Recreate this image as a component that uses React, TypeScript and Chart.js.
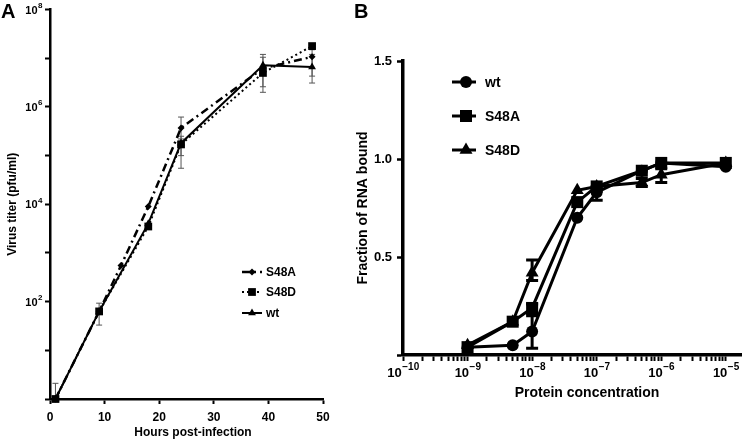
import React, { useEffect, useRef } from 'react';
import { Chart, registerables } from 'chart.js';

Chart.register(...registerables);

const FONT_FAMILY = "'Liberation Sans', Arial, Helvetica, sans-serif";

// ---------------- Panel A: virus growth ----------------
const hoursS48A = [1, 9, 13, 18, 24, 39, 48];
const titerS48A = [1, 63, 550, 9000, 370000, 6200000, 10700000];
const titerS48ALow = [null, null, null, null, 200000, null, 4300000];
const titerS48AHigh = [null, null, null, null, 620000, null, 15000000];

const hoursS48D = [1, 9, 18, 24, 39, 48];
const titerS48D = [1, 63, 3500, 170000, 5000000, 17800000];
const titerS48DLow = [null, null, null, 100000, 2600000, null];
const titerS48DHigh = [2.1, null, null, 220000, 10500000, null];

const hoursWt = [1, 9, 18, 24, 39, 48];
const titerWt = [1, 63, 4000, 180000, 7200000, 6600000];
const titerWtLow = [null, 33, null, 55000, 2000000, 3100000];
const titerWtHigh = [null, 93, null, 250000, 12000000, 12000000];

const hourTicks = [0, 10, 20, 30, 40, 50];
const titerExponents = [0, 1, 2, 3, 4, 5, 6, 7, 8];
const titerLabelledExponents = [2, 4, 6, 8];

// ---------------- Panel B: RNA binding ----------------
const concentration = [1e-9, 5e-9, 1e-8, 5e-8, 1e-7, 5e-7, 1e-6, 1e-5];
const fracWt = [0.04, 0.05, 0.12, 0.70, 0.83, 0.94, 0.98, 0.96];
const fracWtLow = [null, null, 0.035, null, 0.79, null, null, null];
const fracWtHigh = [null, null, 0.2, null, 0.86, null, null, null];
const fracS48A = [0.04, 0.17, 0.24, 0.78, 0.86, 0.94, 0.98, 0.98];
const fracS48ALow = [null, null, 0.21, null, null, null, null, null];
const fracS48AHigh = [null, null, 0.26, null, null, null, null, null];
const fracS48D = [0.05, 0.17, 0.42, 0.84, 0.86, 0.88, 0.92, 0.98];
const fracS48DLow = [null, null, 0.38, null, null, 0.86, 0.88, null];
const fracS48DHigh = [null, null, 0.485, null, null, 0.9, 0.95, null];

const concExponents = [-10, -9, -8, -7, -6, -5];
const concMantissas = [1, 2, 3, 4, 5, 6, 7, 8, 9];
const fractionTicks = [0, 0.5, 1.0, 1.5];

function drawMarker(ctx: CanvasRenderingContext2D, style: string, x: number, y: number, r: number) {
  ctx.beginPath();
  if (style === 'circle') {
    ctx.arc(x, y, r, 0, Math.PI * 2);
  } else if (style === 'rect') {
    const s = r * Math.SQRT1_2;
    ctx.rect(x - s, y - s, 2 * s, 2 * s);
  } else if (style === 'rectRot') {
    ctx.moveTo(x - r, y);
    ctx.lineTo(x, y - r);
    ctx.lineTo(x + r, y);
    ctx.lineTo(x, y + r);
    ctx.closePath();
  } else if (style === 'triangle') {
    ctx.moveTo(x, y - r);
    ctx.lineTo(x + 0.866 * r, y + 0.5 * r);
    ctx.lineTo(x - 0.866 * r, y + 0.5 * r);
    ctx.closePath();
  }
  ctx.fill();
}

// error bars drawn through the chart's own y scale
const errorBarPlugin = {
  id: 'errorBars',
  beforeDatasetsDraw(chart: any, _args: any, opts: any) {
    const ctx = chart.ctx as CanvasRenderingContext2D;
    const yScale = chart.scales.y;
    chart.data.datasets.forEach((ds: any, i: number) => {
      const meta = chart.getDatasetMeta(i);
      ctx.save();
      ctx.strokeStyle = opts.color;
      ctx.lineWidth = opts.width;
      ctx.setLineDash([]);
      meta.data.forEach((pt: any, j: number) => {
        const x = pt.x;
        const yc = pt.y;
        const seg = (v: number) => {
          const yy = yScale.getPixelForValue(v);
          ctx.beginPath();
          ctx.moveTo(x, yc);
          ctx.lineTo(x, yy);
          ctx.moveTo(x - opts.cap, yy);
          ctx.lineTo(x + opts.cap, yy);
          ctx.stroke();
        };
        const lo = ds.errLow ? ds.errLow[j] : null;
        const hi = ds.errHigh ? ds.errHigh[j] : null;
        if (lo != null) seg(lo);
        if (hi != null) seg(hi);
      });
      ctx.restore();
    });
  },
};

// power-of-ten tick labels with a raised exponent
const powerLabelPlugin = {
  id: 'powerLabels',
  afterDraw(chart: any, _args: any, opts: any) {
    const ctx = chart.ctx as CanvasRenderingContext2D;
    const scale = chart.scales[opts.axis];
    ctx.save();
    ctx.fillStyle = '#000';
    ctx.textBaseline = 'middle';
    ctx.textAlign = 'left';
    opts.exponents.forEach((e: number) => {
      const p = scale.getPixelForValue(Math.pow(10, e));
      const base = '10';
      const sup = String(e).replace('-', '\u2212');
      ctx.font = `bold ${opts.baseSize}px ${FONT_FAMILY}`;
      const w1 = ctx.measureText(base).width;
      ctx.font = `bold ${opts.supSize}px ${FONT_FAMILY}`;
      const w2 = ctx.measureText(sup).width;
      let x0: number;
      let yc: number;
      if (opts.axis === 'y') {
        x0 = scale.right - opts.offset - w1 - w2;
        yc = p;
      } else {
        x0 = p - (w1 + w2) / 2;
        yc = scale.top + opts.offset;
      }
      ctx.font = `bold ${opts.baseSize}px ${FONT_FAMILY}`;
      ctx.fillText(base, x0, yc + 1);
      ctx.font = `bold ${opts.supSize}px ${FONT_FAMILY}`;
      ctx.fillText(sup, x0 + w1 + 0.5, yc - opts.raise);
    });
    ctx.restore();
  },
};

// horizontal axis title placed under the axis
const xTitlePlugin = {
  id: 'xTitle',
  afterDraw(chart: any, _args: any, opts: any) {
    const ctx = chart.ctx as CanvasRenderingContext2D;
    ctx.save();
    ctx.fillStyle = '#000';
    ctx.font = opts.font;
    ctx.textAlign = 'center';
    ctx.textBaseline = 'middle';
    ctx.fillText(opts.text, opts.x, opts.y);
    ctx.restore();
  },
};

const legendPlugin = {
  id: 'seriesLegend',
  afterDraw(chart: any, _args: any, opts: any) {
    const ctx = chart.ctx as CanvasRenderingContext2D;
    chart.data.datasets.forEach((ds: any, i: number) => {
      const y = opts.ys[i];
      ctx.save();
      ctx.strokeStyle = '#000';
      ctx.fillStyle = '#000';
      ctx.lineWidth = ds.borderWidth;
      ctx.setLineDash(ds.borderDash || []);
      ctx.beginPath();
      ctx.moveTo(opts.lineStart, y);
      ctx.lineTo(opts.lineEnd, y);
      ctx.stroke();
      ctx.setLineDash([]);
      drawMarker(ctx, ds.pointStyle, opts.markerX, y, ds.pointRadius);
      ctx.font = opts.font;
      ctx.textBaseline = 'middle';
      ctx.textAlign = 'left';
      ctx.fillText(ds.label, opts.textX, y + 1);
      ctx.restore();
    });
  },
};

const pts = (xs: number[], ys: number[]) => xs.map((x, i) => ({ x, y: ys[i] }));

function makeChartA(canvas: HTMLCanvasElement) {
  const common = {
    borderColor: '#000',
    pointBackgroundColor: '#000',
    pointBorderColor: '#000',
    pointBorderWidth: 0,
    tension: 0,
    clip: false as any,
  };
  return new Chart(canvas, {
    type: 'line',
    data: {
      datasets: [
        {
          ...common,
          label: 'S48A',
          data: pts(hoursS48A, titerS48A),
          errLow: titerS48ALow,
          errHigh: titerS48AHigh,
          borderWidth: 2.5,
          borderDash: [8, 4, 2, 4],
          pointStyle: 'rectRot',
          pointRadius: 3.5,
        } as any,
        {
          ...common,
          label: 'S48D',
          data: pts(hoursS48D, titerS48D),
          errLow: titerS48DLow,
          errHigh: titerS48DHigh,
          borderWidth: 2,
          borderDash: [2, 3],
          pointStyle: 'rect',
          pointRadius: 5.5,
        } as any,
        {
          ...common,
          label: 'wt',
          data: pts(hoursWt, titerWt),
          errLow: titerWtLow,
          errHigh: titerWtHigh,
          borderWidth: 2,
          pointStyle: 'triangle',
          pointRadius: 4.5,
        } as any,
      ],
    },
    options: {
      responsive: false,
      animation: false,
      devicePixelRatio: 1,
      layout: { padding: { top: 8, right: 22, left: 0, bottom: 0 } },
      plugins: {
        legend: { display: false },
        tooltip: { enabled: false },
        errorBars: { color: '#555', width: 1, cap: 3 },
        powerLabels: { axis: 'y', exponents: titerLabelledExponents, baseSize: 11, supSize: 8, offset: 8, raise: 4 },
        xTitle: { text: 'Hours post-infection', x: 193, y: 433, font: `bold 12px ${FONT_FAMILY}` },
        seriesLegend: {
          ys: [272, 292, 313],
          lineStart: 242,
          lineEnd: 262,
          markerX: 252,
          textX: 266,
          font: `bold 12px ${FONT_FAMILY}`,
        },
      } as any,
      scales: {
        x: {
          type: 'linear',
          min: 0,
          max: 50,
          afterFit: (s: any) => { s.height = 42; },
          afterBuildTicks: (s: any) => { s.ticks = hourTicks.map((v) => ({ value: v })); },
          ticks: {
            autoSkip: false,
            maxRotation: 0,
            color: '#000',
            padding: 6,
            font: { family: FONT_FAMILY, size: 12, weight: 'bold' },
            callback: (v: any) => String(v),
          },
          grid: { display: true, drawOnChartArea: false, drawTicks: true, tickLength: 5, tickColor: '#000', tickWidth: 2 },
          border: { display: true, color: '#000', width: 2.5 },
          title: { display: false },
        },
        y: {
          type: 'logarithmic',
          min: 1,
          max: 1e8,
          afterFit: (s: any) => { s.width = 50; },
          afterBuildTicks: (s: any) => { s.ticks = titerExponents.map((e) => ({ value: Math.pow(10, e) })); },
          ticks: {
            autoSkip: false,
            color: '#000',
            padding: 3,
            font: { family: FONT_FAMILY, size: 11, weight: 'bold' },
            callback: () => '',
          },
          grid: { display: true, drawOnChartArea: false, drawTicks: true, tickLength: 5, tickColor: '#000', tickWidth: 2 },
          border: { display: true, color: '#000', width: 2.5 },
          title: {
            display: true,
            text: 'Virus titer (pfu/ml)',
            color: '#000',
            font: { family: FONT_FAMILY, size: 12, weight: 'bold' },
            padding: { top: 5, bottom: 0 },
          },
        },
      },
    } as any,
    plugins: [errorBarPlugin, powerLabelPlugin, xTitlePlugin, legendPlugin],
  });
}

function makeChartB(canvas: HTMLCanvasElement) {
  const common = {
    borderColor: '#000',
    pointBackgroundColor: '#000',
    pointBorderColor: '#000',
    pointBorderWidth: 0,
    borderWidth: 3,
    tension: 0,
    clip: false as any,
  };
  return new Chart(canvas, {
    type: 'line',
    data: {
      datasets: [
        {
          ...common,
          label: 'wt',
          data: pts(concentration, fracWt),
          errLow: fracWtLow,
          errHigh: fracWtHigh,
          pointStyle: 'circle',
          pointRadius: 6,
        } as any,
        {
          ...common,
          label: 'S48A',
          data: pts(concentration, fracS48A),
          errLow: fracS48ALow,
          errHigh: fracS48AHigh,
          pointStyle: 'rect',
          pointRadius: 8.5,
        } as any,
        {
          ...common,
          label: 'S48D',
          data: pts(concentration, fracS48D),
          errLow: fracS48DLow,
          errHigh: fracS48DHigh,
          pointStyle: 'triangle',
          pointRadius: 7.5,
        } as any,
      ],
    },
    options: {
      responsive: false,
      animation: false,
      devicePixelRatio: 1,
      layout: { padding: { top: 61, right: 2, left: 0, bottom: 0 } },
      plugins: {
        legend: { display: false },
        tooltip: { enabled: false },
        errorBars: { color: '#000', width: 3, cap: 6 },
        powerLabels: { axis: 'x', exponents: concExponents, baseSize: 13, supSize: 10, offset: 17, raise: 5 },
        xTitle: { text: 'Protein concentration', x: 242, y: 393, font: `bold 14px ${FONT_FAMILY}` },
        seriesLegend: {
          ys: [82, 116, 150],
          lineStart: 107,
          lineEnd: 131,
          markerX: 121,
          textX: 140,
          font: `bold 14px ${FONT_FAMILY}`,
        },
      } as any,
      scales: {
        x: {
          type: 'logarithmic',
          min: 1e-10,
          max: 1.75e-5,
          afterFit: (s: any) => { s.height = 86; },
          afterBuildTicks: (s: any) => {
            const t: { value: number }[] = [];
            concExponents.forEach((e) => {
              if (e === -5) {
                t.push({ value: Math.pow(10, e) });
              } else {
                concMantissas.forEach((m) => t.push({ value: m * Math.pow(10, e) }));
              }
            });
            s.ticks = t;
          },
          ticks: {
            autoSkip: false,
            maxRotation: 0,
            color: '#000',
            padding: 3,
            font: { family: FONT_FAMILY, size: 13, weight: 'bold' },
            callback: () => '',
          },
          grid: { display: true, drawOnChartArea: false, drawTicks: true, tickLength: 6, tickColor: '#000', tickWidth: 2 },
          border: { display: true, color: '#000', width: 3.5 },
          title: { display: false },
        },
        y: {
          type: 'linear',
          min: 0,
          max: 1.5,
          afterFit: (s: any) => { s.width = 58; },
          afterBuildTicks: (s: any) => { s.ticks = fractionTicks.map((v) => ({ value: v })); },
          ticks: {
            autoSkip: false,
            color: '#000',
            padding: 5,
            font: { family: FONT_FAMILY, size: 13, weight: 'bold' },
            callback: (v: any) => (Number(v) === 0 ? '' : Number(v).toFixed(1)),
          },
          grid: { display: true, drawOnChartArea: false, drawTicks: true, tickLength: 6, tickColor: '#000', tickWidth: 2.5 },
          border: { display: true, color: '#000', width: 3.5 },
          title: {
            display: true,
            text: 'Fraction of RNA bound',
            color: '#000',
            font: { family: FONT_FAMILY, size: 14, weight: 'bold' },
            padding: { top: 9.5, bottom: 0 },
          },
        },
      },
    } as any,
    plugins: [errorBarPlugin, powerLabelPlugin, xTitlePlugin, legendPlugin],
  });
}

export default function App() {
  const refA = useRef<HTMLCanvasElement | null>(null);
  const refB = useRef<HTMLCanvasElement | null>(null);

  useEffect(() => {
    const a = makeChartA(refA.current!);
    const b = makeChartB(refB.current!);
    return () => {
      a.destroy();
      b.destroy();
    };
  }, []);

  const letterStyle: React.CSSProperties = {
    position: 'absolute',
    fontFamily: FONT_FAMILY,
    fontWeight: 'bold',
    fontSize: 20,
    lineHeight: '20px',
    color: '#000',
  };

  return (
    <div style={{ position: 'absolute', left: 0, top: 0, width: 750, height: 441, background: '#fff', overflow: 'hidden' }}>
      <canvas ref={refA} width={345} height={441} style={{ position: 'absolute', left: 0, top: 0, width: 345, height: 441 }} />
      <canvas ref={refB} width={405} height={441} style={{ position: 'absolute', left: 345, top: 0, width: 405, height: 441 }} />
      <div style={{ ...letterStyle, left: 1, top: 1 }}>A</div>
      <div style={{ ...letterStyle, left: 354, top: 1 }}>B</div>
    </div>
  );
}
